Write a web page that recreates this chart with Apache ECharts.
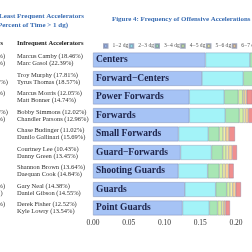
<!DOCTYPE html>
<html>
<head>
<meta charset="utf-8">
<script src="https://cdn.jsdelivr.net/npm/echarts@6/dist/echarts.min.js"></script>
<style>
html, body { margin: 0; padding: 0; background: #fff; }
#chart_wrap { width: 252px; height: 252px; }
</style>
</head>
<body>
<div id="chart_wrap"></div>
<script>
// categories (top to bottom)
var positions = ['Centers', 'Forward\u2212Centers', 'Power Forwards', 'Forwards', 'Small Forwards',
    'Guard\u2212Forwards', 'Shooting Guards', 'Guards', 'Point Guards'];
var binNames = ['1\u22122 dg', '2\u22123 dg', '3\u22124 dg', '4\u22125 dg', '5\u22126 dg', '6\u22127 dg', '7+ dg'];
var binColors = ['#a6c3f5', '#a3f3f8', '#a8e6b4', '#d3f1a3', '#f4f1a6', '#f9d49a', '#f08f8f'];

// frequency per bin, one value per position
var bin1 = [0.1573, 0.1524, 0.1347, 0.1347, 0.1196, 0.1224, 0.1193, 0.1284, 0.1252];
var bin2 = [0.0622, 0.0578, 0.0489, 0.0503, 0.0417, 0.0433, 0.0411, 0.0432, 0.0375];
var bin3 = [0.0220, 0.0210, 0.0196, 0.0196, 0.0153, 0.0157, 0.0162, 0.0154, 0.0116];
var bin4 = [0.0070, 0.0060, 0.0062, 0.0056, 0.0052, 0.0046, 0.0048, 0.0046, 0.0057];
var bin5 = [0.0040, 0.0040, 0.0022, 0.0030, 0.0038, 0.0035, 0.0036, 0.0038, 0.0029];
var bin6 = [0.0050, 0.0050, 0.0034, 0.0040, 0.0046, 0.0052, 0.0048, 0.0043, 0.0024];
var bin7 = [0.0090, 0.0090, 0.0080, 0.0090, 0.0084, 0.0067, 0.0070, 0.0073, 0.0063];
var bins = [bin1, bin2, bin3, bin4, bin5, bin6, bin7];

// table on the left of the page (only partly visible)
var infrequentTop = ['Marcus Camby (18.46%)', 'Troy Murphy (17.81%)', 'Marcus Morris (12.05%)',
    'Bobby Simmons (12.02%)', 'Chase Budinger (11.02%)', 'Courtney Lee (10.43%)',
    'Shannon Brown (13.64%)', 'Gary Neal (14.38%)', 'Derek Fisher (12.52%)'];
var infrequentBottom = ['Marc Gasol (22.39%)', 'Tyrus Thomas (18.57%)', 'Matt Bonner (14.74%)',
    'Chandler Parsons (12.96%)', 'Danilo Gallinari (15.69%)', 'Danny Green (13.45%)',
    'Daequan Cook (14.84%)', 'Daniel Gibson (14.55%)', 'Kyle Lowry (13.54%)'];
// clipped ends of the frequent column: [row, line, text]
var frequentTails = [[0, 0, '%)'], [0, 1, '%)'], [1, 1, '9%)'], [2, 0, '%)'],
    [3, 0, '4%)'], [3, 1, '%)'], [7, 0, '%)'], [7, 1, ')'], [8, 0, '%)']];

var chart = echarts.init(document.getElementById('chart_wrap'));
var serif = '"Liberation Serif", "DejaVu Serif", serif';

var series = bins.map(function (vals, i) {
    return {
        name: binNames[i],
        type: 'bar',
        stack: 'total',
        barCategoryGap: '20%',
        data: vals,
        itemStyle: {
            color: binColors[i],
            borderColor: 'rgba(90,100,140,0.55)',
            borderWidth: 0.5
        },
        label: i === 0 ? {
            show: true,
            position: 'insideLeft',
            distance: 3,
            formatter: '{b}',
            fontFamily: serif,
            fontWeight: 'bold',
            fontSize: 9.5,
            color: '#1c2248'
        } : { show: false },
        animation: false
    };
});

var option = {
    backgroundColor: '#fff',
    animation: false,
    title: {
        text: 'Figure 4: Frequency of Offensive Accelerations by Position',
        left: 107,
        top: 11,
        textStyle: { fontFamily: serif, fontWeight: 'bold', fontSize: 6.9, color: '#3a6db3' }
    },
    legend: {
        left: 98,
        top: 38,
        width: 500,
        itemWidth: 3.5,
        itemHeight: 3.5,
        itemGap: 0.5,
        icon: 'rect',
        data: binNames,
        textStyle: { fontFamily: serif, fontSize: 5.6, color: '#555' }
    },
    // plot runs past the right edge of the picture
    grid: { left: 93, width: 214.5, top: 50.75, height: 166.5, containLabel: false, outerBoundsMode: 'none' },
    xAxis: {
        type: 'value',
        min: 0,
        max: 0.30,
        interval: 0.05,
        axisLine: { show: false },
        axisTick: { show: false },
        splitLine: { show: false },
        axisLabel: {
            margin: 2,
            fontFamily: serif,
            fontSize: 7.5,
            color: '#333',
            formatter: function (v) { return v.toFixed(2); }
        }
    },
    yAxis: {
        type: 'category',
        inverse: true,
        data: positions,
        axisLine: { show: false },
        axisTick: { show: false },
        axisLabel: { show: false }
    },
    series: series
};
chart.setOption(option);

// table text, lined up with the bars
var texts = [];
function addText(x, y, str, opts) {
    opts = opts || {};
    texts.push({
        type: 'text',
        x: x,
        y: y,
        silent: true,
        style: {
            text: str,
            align: opts.align || 'left',
            verticalAlign: 'middle',
            font: (opts.bold ? 'bold ' : '') + (opts.size || 6.5) + 'px ' + serif,
            fill: opts.color || '#333'
        }
    });
}
addText(84, 16, 'Most and Least Frequent Accelerators', { align: 'right', bold: true, size: 7, color: '#3a6db3' });
addText(68, 25, '(Percent of Time > 1 dg)', { align: 'right', bold: true, size: 7, color: '#3a6db3' });
addText(3, 43, 'Frequent Accelerators', { align: 'right', bold: true, color: '#222' });
addText(17, 43, 'Infrequent Accelerators', { bold: true, color: '#222' });

var rowY = positions.map(function (p) {
    return chart.convertToPixel({ yAxisIndex: 0 }, p);
});
for (var i = 0; i < positions.length; i++) {
    addText(17, rowY[i] - 3.6, infrequentTop[i]);
    addText(17, rowY[i] + 3.6, infrequentBottom[i]);
}
frequentTails.forEach(function (t) {
    addText(t[2].length * 2.6, rowY[t[0]] + (t[1] === 0 ? -3.6 : 3.6), t[2], { align: 'right' });
});

chart.setOption({ graphic: texts });
</script>
</body>
</html>
